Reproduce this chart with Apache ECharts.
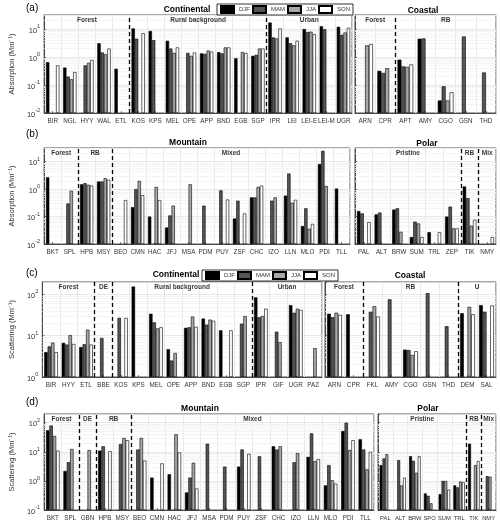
<!DOCTYPE html>
<html><head><meta charset="utf-8">
<script src="https://cdn.jsdelivr.net/npm/echarts@6/dist/echarts.min.js"></script>
<style>html,body{margin:0;padding:0;background:#fff}#c{width:500px;height:523px}</style>
</head><body><div id="c"></div><script>
const seasons = ['DJF','MAM','JJA','SON'];

// (a) Absorption - Continental
const catsA1 = ['BIR','NGL','HYY','WAL','ETL','KOS','KPS','MEL','OPE','APP','BND','EGB','SGP','IPR','LEI','LEI-E','LEI-M','UGR'];
const a1DJF = [0.65,0.42,null,3.1,0.38,10.5,8.5,3.8,null,1.35,1.5,0.9,1.1,17,5,10,12.5,12];
const a1MAM = [null,0.2,0.5,1.45,null,4.5,4,2.0,1.4,1.3,1.35,null,1.2,5,3.1,7.8,9.8,6.2];
const a1JJA = [null,0.16,0.62,1.25,null,null,null,1.4,1.1,1.7,2.2,1.5,2.0,4.6,2.6,8,null,7.5];
const a1SON = [0.5,0.29,0.78,2.0,null,7,null,2.2,1.45,1.55,2.2,1.4,2.0,10.5,3.8,6.5,null,11];
// (a) Absorption - Coastal
const catsA2 = ['ARN','CPR','APT','AMY','CGO','GSN','THD'];
const a2DJF = [null,0.32,0.8,4.5,0.028,null,null];
const a2MAM = [null,0.27,0.46,4.6,0.09,5.4,0.28];
const a2JJA = [2.6,0.4,0.44,null,0.028,null,null];
const a2SON = [2.9,null,0.54,null,0.055,null,null];
// (b) Absorption - Mountain
const catsB1 = ['BKT','SPL','HPB','MSY','BEO','CMN','HAC','JFJ','MSA','PDM','PUY','ZSF','CHC','IZO','LLN','MLO','PDI','TLL'];
const b1DJF = [2.7,null,1.5,1.9,null,0.22,0.1,0.04,null,null,null,0.085,0.5,null,0.58,0.045,8.2,1.05];
const b1MAM = [null,0.3,1.65,1.9,null,1.0,null,0.11,null,0.25,0.9,0.38,0.5,0.38,3.7,0.2,25,null];
const b1JJA = [null,0.87,1.45,2.5,null,2.0,1.2,0.25,1.5,null,null,null,1.2,0.5,0.32,0.036,1.3,null];
const b1SON = [null,null,1.35,2.2,0.4,0.6,0.4,null,null,null,0.42,0.13,1.35,null,0.41,0.054,null,null];
// (b) Absorption - Polar
const catsB2 = ['PAL','ALT','BRW','SUM','TRL','ZEP','TIK','NMY'];
const b2DJF = [0.16,0.12,0.18,0.018,0.027,0.1,1.25,null];
const b2MAM = [0.13,0.14,0.2,0.065,null,0.23,0.47,null];
const b2JJA = [null,null,0.028,0.056,null,0.037,0.046,null];
const b2SON = [0.063,null,null,0.018,0.027,0.037,0.076,0.018];
// (c) Scattering - Continental
const catsC1 = ['BIR','HYY','ETL','BBE','KOS','KPS','MEL','OPE','APP','BND','EGB','SGP','IPR','GIF','UGR','PAZ'];
const c1DJF = [4,6.7,5.3,null,null,155,34,4.7,15.5,26,13.5,null,85,null,55,null];
const c1MAM = [5.5,6.1,6.2,8.8,27,null,21,2.5,16,18.5,null,19.5,28,12.5,36,null];
const c1JJA = [6.8,10.3,14,null,null,null,15,3.8,29,24.5,null,30,30,7,45,5];
const c1SON = [4,6.3,6.1,null,27,null,16,null,16.5,23,13.5,null,45,null,42,null];
// (c) Scattering - Coastal
const catsC2 = ['ARN','CPR','FKL','AMY','CGO','GSN','THD','DEM','SAL'];
const c2DJF = [34,33,null,null,4.6,null,null,35,55];
const c2MAM = [28,null,38,76,4.5,107,17,null,38];
const c2JJA = [36,null,52,null,3.4,null,null,50,null];
const c2SON = [32,null,29,null,4.2,null,null,33,54];
// (d) Scattering - Mountain
const catsD1 = ['BKT','SPL','GBN','HPB','MSY','BEO','CMN','HAC','JFJ','MSA','PDM','PUY','ZSF','CHC','IZO','LLN','MLO','PDI','TLL'];
const d1DJF = [55,2.2,null,11,null,null,1.3,1.7,0.4,null,null,3.1,null,15.5,null,6.7,0.7,52,27];
const d1MAM = [80,4.4,null,15.5,18.5,12,null,null,1.3,19,3.1,12,7,12,4.4,43,3.5,100,12];
const d1JJA = [35,12.5,11.5,null,30,30,null,40,4.2,null,null,null,null,15.5,9,4.8,1.05,11.5,2.5];
const d1SON = [11,null,null,10.5,25,5,4,9.5,0.55,null,null,8.5,null,null,null,5.6,0.8,25,10];
// (d) Scattering - Polar
const catsD2 = ['PAL','ALT','BRW','SPO','SUM','TRL','TIK','NMY'];
const d2DJF = [3.5,null,7.1,0.37,0.35,0.7,19,null];
const d2MAM = [5.9,5.2,4.9,0.31,1.0,0.6,null,1.45];
const d2JJA = [8.3,0.7,1.9,0.17,1.0,0.95,3.5,1.4];
const d2SON = [null,1.3,7.1,null,0.5,0.9,4.8,null];

// group labels [name, startIndex, endIndex]; separators at group starts
const grpA1 = [['Forest',0,5],['Rural background',5,13],['Urban',13,18]];
const grpA2 = [['Forest',0,2],['RB',2,7]];
const grpB1 = [['Forest',0,2],['RB',2,4],['Mixed',4,18]];
const grpB2 = [['Pristine',0,6],['RB',6,7],['Mix',7,8]];
const grpC1 = [['Forest',0,3],['DE',3,4],['Rural background',4,12],['Urban',12,16]];
const grpC2 = [['Forest',0,2],['RB',2,7],['U',7,9]];
const grpD1 = [['Forest',0,2],['DE',2,3],['RB',3,5],['Mixed',5,19]];
const grpD2 = [['Pristine',0,6],['RB',6,7],['Mix',7,8]];

const F = 'Liberation Sans, Arial, Helvetica, sans-serif';
const colors = ['#000000','#555555','#a8a8a8','#ffffff'];

const rows = [
  {min:0.01, max:Math.pow(10,1.5), name:'Absorption (Mm\u207B\u00B9)'},
  {min:0.01, max:Math.pow(10,1.5), name:'Absorption (Mm\u207B\u00B9)'},
  {min:1, max:Math.pow(10,2.3), name:'Scattering (Mm\u207B\u00B9)'},
  {min:0.1, max:Math.pow(10,2.3), name:'Scattering (Mm\u207B\u00B9)'}
];
const panels = [
  {row:0, side:0, cats:catsA1, data:[a1DJF,a1MAM,a1JJA,a1SON], groups:grpA1, box:[29,15,323,98]},
  {row:0, side:1, cats:catsA2, data:[a2DJF,a2MAM,a2JJA,a2SON], groups:grpA2, box:[355,15,141,98]},
  {row:1, side:0, cats:catsB1, data:[b1DJF,b1MAM,b1JJA,b1SON], groups:grpB1, box:[29,148,321,96]},
  {row:1, side:1, cats:catsB2, data:[b2DJF,b2MAM,b2JJA,b2SON], groups:grpB2, box:[355,148,141,96]},
  {row:2, side:0, cats:catsC1, data:[c1DJF,c1MAM,c1JJA,c1SON], groups:grpC1, box:[29,282,293,95]},
  {row:2, side:1, cats:catsC2, data:[c2DJF,c2MAM,c2JJA,c2SON], groups:grpC2, box:[325,282,171,95]},
  {row:3, side:0, cats:catsD1, data:[d1DJF,d1MAM,d1JJA,d1SON], groups:grpD1, box:[29,414,345,96]},
  {row:3, side:1, cats:catsD2, data:[d2DJF,d2MAM,d2JJA,d2SON], groups:grpD2, box:[378,414,118,96]}
];

function powLabel(v){
  const e = Math.log10(v), r = Math.round(e);
  if (Math.abs(e - r) > 1e-6) return '';
  return '{b|10}{s|' + r + '}';
}
function minorValues(min, max){
  const out = [];
  for (let e = Math.floor(Math.log10(min)); e < Math.ceil(Math.log10(max)); e++)
    for (let k = 2; k <= 9; k++){ const v = k*Math.pow(10,e); if (v > min && v < max) out.push({yAxis:v}); }
  return out;
}

const grids=[], xAxes=[], yAxes=[], series=[];
panels.forEach((p,i)=>{
  const R = rows[p.row], b = p.box;
  const narrow = b[2] / p.cats.length < 16;
  grids.push({left:b[0], top:b[1], width:b[2], height:b[3], show:true, borderColor:'#262626', borderWidth:0.8, backgroundColor:'#fff'});
  xAxes.push({type:'category', gridIndex:i, data:p.cats,
    axisLabel:{interval:0, fontSize:narrow ? 5.8 : 6.3, color:'#333', margin:5, fontFamily:F},
    axisTick:{show:true, inside:true, alignWithLabel:true, length:2, lineStyle:{color:'#333',width:0.6}},
    axisLine:{lineStyle:{color:'#262626',width:0.8}},
    splitLine:{show:true, interval:0, lineStyle:{color:'#e2e2e2', width:0.8}}});
  xAxes.push({type:'value', gridIndex:i, min:0, max:p.cats.length, show:false});
  yAxes.push({type:'log', gridIndex:i, min:R.min, max:R.max, startValue:R.min,
    axisLine:{show:true, lineStyle:{color:'#262626',width:0.8}},
    axisTick:{show:true, inside:true, length:2, lineStyle:{color:'#333',width:0.6}},
    axisLabel:{show:p.side===0, formatter:powLabel, showMaxLabel:false, margin:4,
      rich:{b:{fontSize:7.5, color:'#333', fontFamily:F, lineHeight:11, verticalAlign:'bottom'},
            s:{fontSize:5.5, color:'#333', fontFamily:F, lineHeight:11, verticalAlign:'top'}}},
    splitLine:{show:true, lineStyle:{color:'#e2e2e2', width:0.8}},
    name: p.side===0 ? R.name : '', nameLocation:'middle', nameGap:19,
    nameTextStyle:{fontSize:7.5, color:'#333', fontFamily:F}});
  p.data.forEach((arr,k)=>{
    series.push({type:'bar', name:seasons[k], xAxisIndex:2*i, yAxisIndex:i, data:arr,
      barGap:'0%', barCategoryGap:'22%', z:3,
      itemStyle:{color:colors[k], borderColor:'#000', borderWidth:0.6}});
  });
  const seps = p.groups.slice(1).map(g=>({xAxis:g[1]}));
  series.push({type:'scatter', xAxisIndex:2*i+1, yAxisIndex:i, symbolSize:0, silent:true, z:6,
    data:p.groups.map(g=>({name:g[0], value:[(g[1]+g[2])/2, R.max]})),
    label:{show:true, position:'bottom', distance:2, formatter:'{b}', fontSize:6.5, fontWeight:'bold', color:'#000', fontFamily:F},
    markLine:{silent:true, symbol:'none', animation:false, label:{show:false},
      lineStyle:{type:[4,3], color:'#000', width:1.3}, data:seps}});
  series.push({type:'scatter', xAxisIndex:2*i+1, yAxisIndex:i, data:[], silent:true, z:1,
    markLine:{silent:true, symbol:'none', animation:false, z:1, label:{show:false},
      lineStyle:{type:'solid', color:'#f1f1f1', width:0.8}, data:minorValues(R.min,R.max)}});
});

const txt = (x,y,t,size,weight,align)=>({type:'text', x:x, y:y, style:{text:t, fontSize:size, fontWeight:weight||'normal', fontFamily:F, fill:'#000', textAlign:align||'center', textVerticalAlign:'middle'}});
const graphics = [
  txt(26,8,'(a)',10,'normal','left'), txt(187,10,'Continental',8.5,'bold'), txt(423,11,'Coastal',8.5,'bold'),
  txt(26,134,'(b)',10,'normal','left'), txt(188,143,'Mountain',8.5,'bold'), txt(427,144,'Polar',8.5,'bold'),
  txt(26,273,'(c)',10,'normal','left'), txt(176,275,'Continental',8.5,'bold'), txt(410,276,'Coastal',8.5,'bold'),
  txt(26,402,'(d)',10,'normal','left'), txt(200,409,'Mountain',8.5,'bold'), txt(428,409,'Polar',8.5,'bold')
];

const legendBase = {data:seasons, orient:'horizontal', itemWidth:13, itemHeight:7, itemGap:2, padding:[1,3],
  borderColor:'#000', borderWidth:0.8, backgroundColor:'#fff', icon:'rect',
  textStyle:{fontSize:6, color:'#333', fontFamily:F}};
const chart = echarts.init(document.getElementById('c'), null, {renderer:'canvas'});
chart.setOption({
  animation:false,
  backgroundColor:'#fff',
  grid:grids, xAxis:xAxes, yAxis:yAxes, series:series,
  legend:[Object.assign({left:217, top:4}, legendBase), Object.assign({left:202, top:270}, legendBase)],
  graphic:graphics
});
</script></body></html>
